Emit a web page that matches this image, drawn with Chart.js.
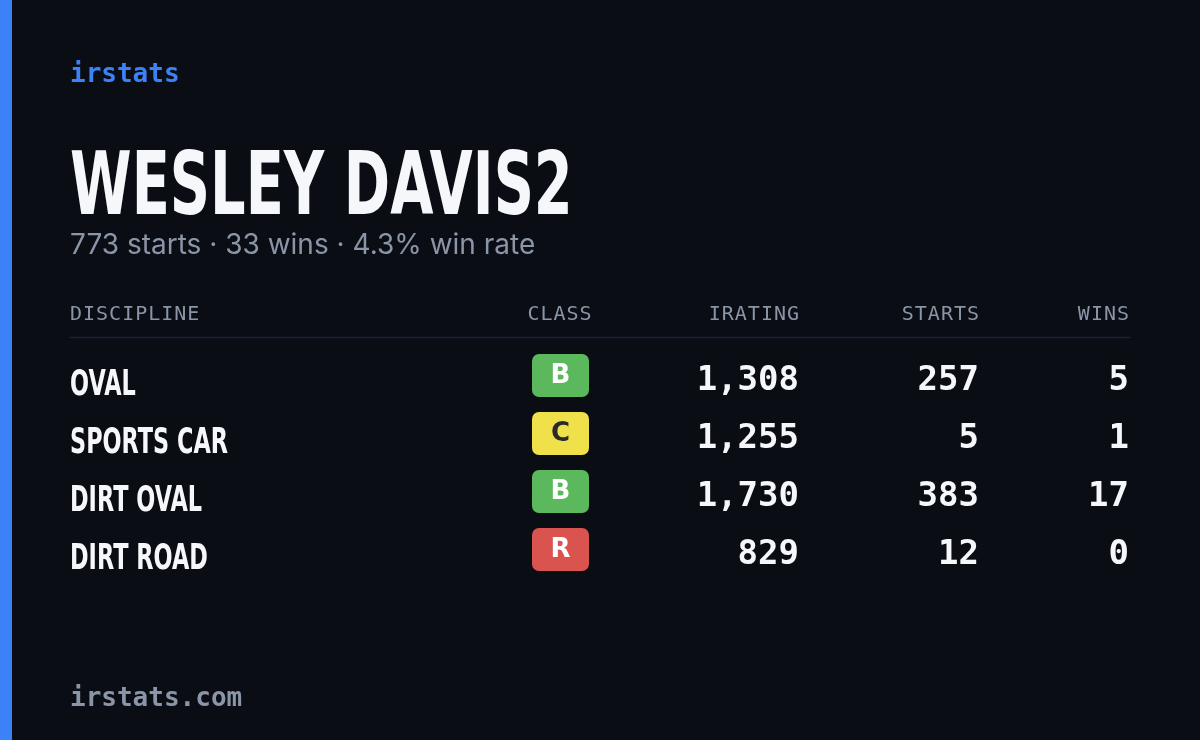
<!DOCTYPE html>
<html><head><meta charset="utf-8">
<script src="https://cdn.jsdelivr.net/npm/chart.js@4"></script>
<style>
html,body{margin:0;background:#0a0d14;}
#wrap{position:relative;width:1200px;height:740px;}
canvas{display:block}
</style></head>
<body><div id="wrap"><canvas id="card" width="1200" height="740"></canvas></div>
<script>
const brand = 'irstats';
const playerName = 'WESLEY DAVIS2';
const summary = '773 starts · 33 wins · 4.3% win rate';
const footer = 'irstats.com';
const columns = ['DISCIPLINE', 'CLASS', 'IRATING', 'STARTS', 'WINS'];
const disciplines = ['OVAL', 'SPORTS CAR', 'DIRT OVAL', 'DIRT ROAD'];
const classes = ['B', 'C', 'B', 'R'];
const iratings = [1308, 1255, 1730, 829];
const starts = [257, 5, 383, 12];
const wins = [5, 1, 17, 0];

const classColors = { B: '#5cb85c', C: '#f0e04a', R: '#d9534f', A: '#3b82f6', D: '#f0883e' };
const classText = { B: '#ffffff', C: '#2a2a2a', R: '#ffffff', A: '#ffffff', D: '#ffffff' };
const MONO = '"DejaVu Sans Mono", "Liberation Mono", monospace';
const COND = '"DejaVu Sans", sans-serif';
// x anchor of each column within the table (0 = left edge, 1060 = right edge)
const colX = [0, 490, 729, 909, 1059];
const colAlign = ['left', 'center', 'right', 'right', 'right'];

function condensed(c, text, x, y, sx) {
  c.save();
  c.translate(x, y);
  c.scale(sx, 1);
  c.fillText(text, 0, 0);
  c.restore();
}

const cardPlugin = {
  id: 'card',
  afterDraw(chart) {
    const c = chart.ctx, xs = chart.scales.x, ys = chart.scales.y;
    c.save();
    c.fillStyle = '#3b82f6';
    c.fillRect(0, 0, 12, 740);
    c.textBaseline = 'alphabetic';
    c.textAlign = 'left';
    c.fillStyle = '#3b82f6';
    c.font = 'bold 26px ' + MONO;
    c.fillText(brand, 70, 82);
    c.fillStyle = '#f5f7fb';
    c.font = 'bold 88px ' + COND;
    condensed(c, playerName, 70, 214, 0.635);
    c.fillStyle = '#8b95a8';
    c.font = '28px Inter, "Noto Sans", sans-serif';
    c.fillText(summary, 70, 254);
    c.font = 'bold 26px ' + MONO;
    c.fillText(footer, 70, 706);

    // header row
    c.font = '500 20px ' + MONO;
    c.letterSpacing = '1px';
    c.fillStyle = '#8b95a8';
    columns.forEach((h, i) => {
      c.textAlign = colAlign[i];
      c.fillText(h, xs.getPixelForValue(colX[i]) + (colAlign[i] === 'right' ? 1 : 0), 320);
    });
    c.letterSpacing = '0px';
    c.strokeStyle = '#1e2330';
    c.lineWidth = 1.5;
    c.beginPath();
    c.moveTo(xs.left, 337.5); c.lineTo(xs.right, 337.5); c.stroke();

    disciplines.forEach((d, i) => {
      const y = ys.getPixelForValue(i);
      c.textAlign = 'left';
      c.textBaseline = 'middle';
      c.fillStyle = '#f5f7fb';
      c.font = 'bold 35px ' + COND;
      condensed(c, d, xs.getPixelForValue(colX[0]), y + 6, 0.64);
      // class badge
      const bx = xs.getPixelForValue(colX[1]);
      c.fillStyle = classColors[classes[i]];
      c.beginPath();
      c.roundRect(bx - 28, y - 26, 57, 43, 7);
      c.fill();
      c.fillStyle = classText[classes[i]];
      c.textAlign = 'center';
      c.font = 'bold 26px "DejaVu Sans", sans-serif';
      c.fillText(classes[i], bx + 0.5, y - 4);
      c.fillStyle = '#f5f7fb';
      c.font = 'bold 34px ' + MONO;
      c.textAlign = 'right';
      c.fillText(iratings[i].toLocaleString('en-US'), xs.getPixelForValue(colX[2]), y + 1);
      c.fillText(String(starts[i]), xs.getPixelForValue(colX[3]), y + 1);
      c.fillText(String(wins[i]), xs.getPixelForValue(colX[4]), y + 1);
    });
    c.restore();
  }
};

new Chart(document.getElementById('card'), {
  type: 'scatter',
  data: {
    labels: disciplines,
    datasets: [{
      data: disciplines.map((d, i) => ({ x: colX[2], y: d })),
      pointRadius: 0
    }]
  },
  options: {
    responsive: false,
    animation: false,
    layout: { padding: { left: 70, right: 70, top: 351, bottom: 157 } },
    plugins: { legend: { display: false }, tooltip: { enabled: false } },
    scales: {
      x: { type: 'linear', min: 0, max: 1060, display: false },
      y: { type: 'category', labels: disciplines, offset: true, display: false }
    }
  },
  plugins: [cardPlugin]
});
</script></body></html>
